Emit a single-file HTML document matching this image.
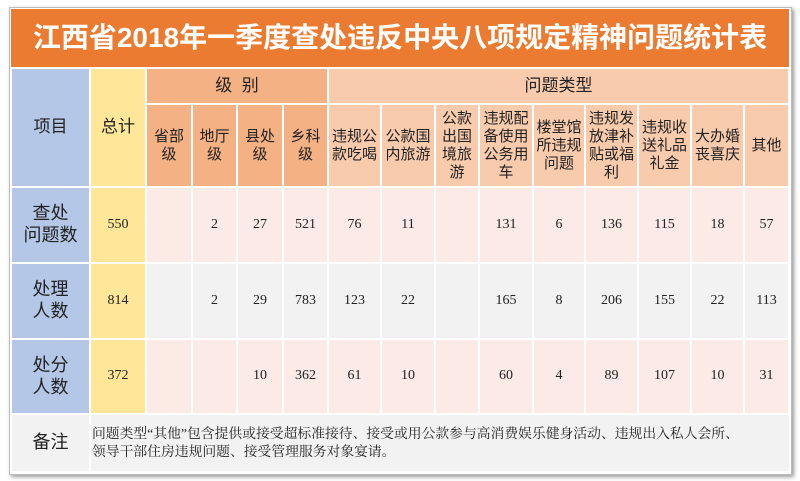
<!DOCTYPE html>
<html><head><meta charset="utf-8"><style>
body{margin:0;width:800px;height:481px;background:#fff;position:relative;overflow:hidden;font-family:"Liberation Sans","Noto Sans CJK SC",sans-serif;}
.frame{position:absolute;left:9px;top:7px;width:781px;height:466px;background:#fff;border:1px solid #bbb;box-shadow:2px 2px 4px #999;}
.c{position:absolute;display:flex;align-items:center;justify-content:center;text-align:center;box-sizing:border-box;color:#222;line-height:1.2;}
.n{font-family:"Liberation Serif","Noto Serif CJK SC",serif;font-size:14px;}
</style></head><body>
<div class="frame"></div>
<div class="c" style="left:11px;top:9px;width:778px;height:58px;background:#EA7B31;color:#fff;font-size:28px;font-weight:bold;">江西省2018年一季度查处违反中央八项规定精神问题统计表</div>
<div id="t"></div>
<script>
var X=[11,90,146,192,237,283,328,381,435,479,533,585,638,691,744,789];
var H='';
function cell(c0,c1,y0,y1,bg,txt,cls,fs){
 H+='<div class="c '+(cls||'')+'" style="left:'+(X[c0]+1)+'px;top:'+(y0+1)+'px;width:'+(X[c1]-X[c0]-2)+'px;height:'+(y1-y0-2)+'px;background:'+bg+';font-size:'+(fs||14)+'px">'+txt+'</div>';
}
cell(0,1,68,187,'#B4C7E7','项目','',17);
cell(1,2,68,187,'#FFE699','总计','',17);
cell(2,6,68,104,'#F4B183','级&nbsp;&nbsp;别','',17);
cell(6,15,68,104,'#F8CBAD','问题类型','',17);
var h2=['省部<br>级','地厅<br>级','县处<br>级','乡科<br>级','违规公<br>款吃喝','公款国<br>内旅游','公款<br>出国<br>境旅<br>游','违规配<br>备使用<br>公务用<br>车','楼堂馆<br>所违规<br>问题','违规发<br>放津补<br>贴或福<br>利','违规收<br>送礼品<br>礼金','大办婚<br>丧喜庆','其他'];
for(var i=0;i<13;i++)cell(i+2,i+3,104,187,i<4?'#F4B183':'#F8CBAD',h2[i],'',15);
var rows=[['查处<br>问题数','550','','2','27','521','76','11','','131','6','136','115','18','57'],
['处理<br>人数','814','','2','29','783','123','22','','165','8','206','155','22','113'],
['处分<br>人数','372','','','10','362','61','10','','60','4','89','107','10','31']];
var Y=[187,263,339,414],bgs=['#FBEAE5','#F2F2F2','#FBEAE5'];
for(var r=0;r<3;r++){
 cell(0,1,Y[r],Y[r+1],'#B4C7E7',rows[r][0],'',18);
 cell(1,2,Y[r],Y[r+1],'#FFE699',rows[r][1],'n',14);
 for(var j=2;j<15;j++)cell(j,j+1,Y[r],Y[r+1],bgs[r],rows[r][j],'n',14);
}
cell(0,1,414,472,'#F2F2F2','备注','',18);
H+='<div class="c" style="left:91px;top:415px;width:698px;height:56px;background:#F2F2F2;justify-content:flex-start;text-align:left;padding-left:1px;font-family:\'Liberation Serif\',\'Noto Serif CJK SC\',serif;font-size:13.8px;line-height:18px;white-space:nowrap;">问题类型“其他”包含提供或接受超标准接待、接受或用公款参与高消费娱乐健身活动、违规出入私人会所、<br>领导干部住房违规问题、接受管理服务对象宴请。</div>';
document.getElementById('t').innerHTML=H;
</script>
</body></html>
